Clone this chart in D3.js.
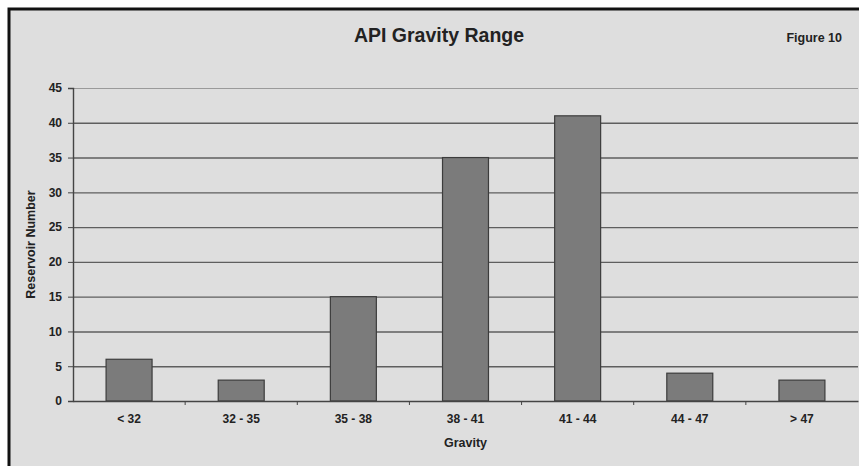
<!DOCTYPE html>
<html>
<head>
<meta charset="utf-8">
<script src="https://cdn.jsdelivr.net/npm/d3@7"></script>
<style>
  body { margin: 0; background: #ffffff; }
  text { font-family: "Liberation Sans", Arial, sans-serif; fill: #222; }
</style>
</head>
<body>
<div id="chart"></div>
<script>
// data
var categories = ["< 32", "32 - 35", "35 - 38", "38 - 41", "41 - 44", "44 - 47", "> 47"];
var reservoirs = [6, 3, 15, 35, 41, 4, 3];
var yTicks = [0, 5, 10, 15, 20, 25, 30, 35, 40, 45];

var width = 859, height = 466,
    margin = {top: 88, right: 1, bottom: 65, left: 73};

var svg = d3.select("#chart").append("svg")
    .attr("width", width)
    .attr("height", height);

// grey page with black frame (left + top only visible)
svg.append("rect")
    .attr("x", 9).attr("y", 9)
    .attr("width", width).attr("height", height)
    .attr("fill", "#dedede")
    .attr("stroke", "#111")
    .attr("stroke-width", 3);

var x = d3.scaleBand()
    .domain(categories)
    .range([margin.left, width - margin.right])
    .paddingInner(0.59)
    .paddingOuter(0.295);

var y = d3.scaleLinear()
    .domain([0, 45])
    .range([height - margin.bottom, margin.top]);

// gridlines
svg.append("g")
    .selectAll("line")
    .data(yTicks.filter(function(d) { return d > 0; }))
    .join("line")
    .attr("x1", margin.left)
    .attr("x2", width - margin.right)
    .attr("y1", function(d) { return y(d) + 0.5; })
    .attr("y2", function(d) { return y(d) + 0.5; })
    .attr("stroke", function(d) { return d === 45 ? "#9a9a9a" : "#5e5e5e"; })
    .attr("stroke-width", function(d) { return d === 45 ? 1 : 1.4; });

// bars
svg.append("g")
    .selectAll("rect")
    .data(reservoirs)
    .join("rect")
    .attr("x", function(d, i) { return x(categories[i]); })
    .attr("y", function(d) { return y(d); })
    .attr("width", x.bandwidth())
    .attr("height", function(d) { return y(0) - y(d); })
    .attr("fill", "#7b7b7b")
    .attr("stroke", "#3c3c3c")
    .attr("stroke-width", 1.2);

// y axis
var yAxis = svg.append("g")
    .attr("transform", "translate(" + margin.left + ",0)")
    .call(d3.axisLeft(y).tickValues(yTicks).tickSize(5).tickPadding(6));
yAxis.select(".domain").attr("stroke", "#444").attr("stroke-width", 1.4);
yAxis.selectAll(".tick line").attr("stroke", "#444");
yAxis.selectAll(".tick text")
    .attr("font-size", 12)
    .attr("font-weight", "bold")
    .attr("fill", "#222");

// x axis
var xAxis = svg.append("g")
    .attr("transform", "translate(0," + y(0) + ")")
    .call(d3.axisBottom(x).tickSize(0).tickPadding(13));
xAxis.select(".domain").attr("stroke", "#444").attr("stroke-width", 1.4);
xAxis.selectAll(".tick text")
    .attr("font-size", 12)
    .attr("font-weight", "bold")
    .attr("fill", "#222");

// category separator ticks
var step = x.step();
svg.append("g")
    .selectAll("line")
    .data(categories.slice(1))
    .join("line")
    .attr("x1", function(d) { return x(d) - x.paddingOuter() * step; })
    .attr("x2", function(d) { return x(d) - x.paddingOuter() * step; })
    .attr("y1", y(0))
    .attr("y2", y(0) + 4)
    .attr("stroke", "#444");

// titles
svg.append("text")
    .attr("x", 439).attr("y", 42)
    .attr("text-anchor", "middle")
    .attr("font-size", 19.5)
    .attr("font-weight", "bold")
    .text("API Gravity Range");

svg.append("text")
    .attr("x", 842).attr("y", 42)
    .attr("text-anchor", "end")
    .attr("font-size", 12.5)
    .attr("font-weight", "bold")
    .text("Figure 10");

svg.append("text")
    .attr("x", (margin.left + width - margin.right) / 2)
    .attr("y", 447)
    .attr("text-anchor", "middle")
    .attr("font-size", 12.5)
    .attr("font-weight", "bold")
    .attr("fill", "#333")
    .text("Gravity");

svg.append("text")
    .attr("transform", "translate(35," + (y(0) + y(45)) / 2 + ") rotate(-90)")
    .attr("text-anchor", "middle")
    .attr("font-size", 12.5)
    .attr("font-weight", "bold")
    .attr("fill", "#333")
    .text("Reservoir Number");
</script>
</body>
</html>
